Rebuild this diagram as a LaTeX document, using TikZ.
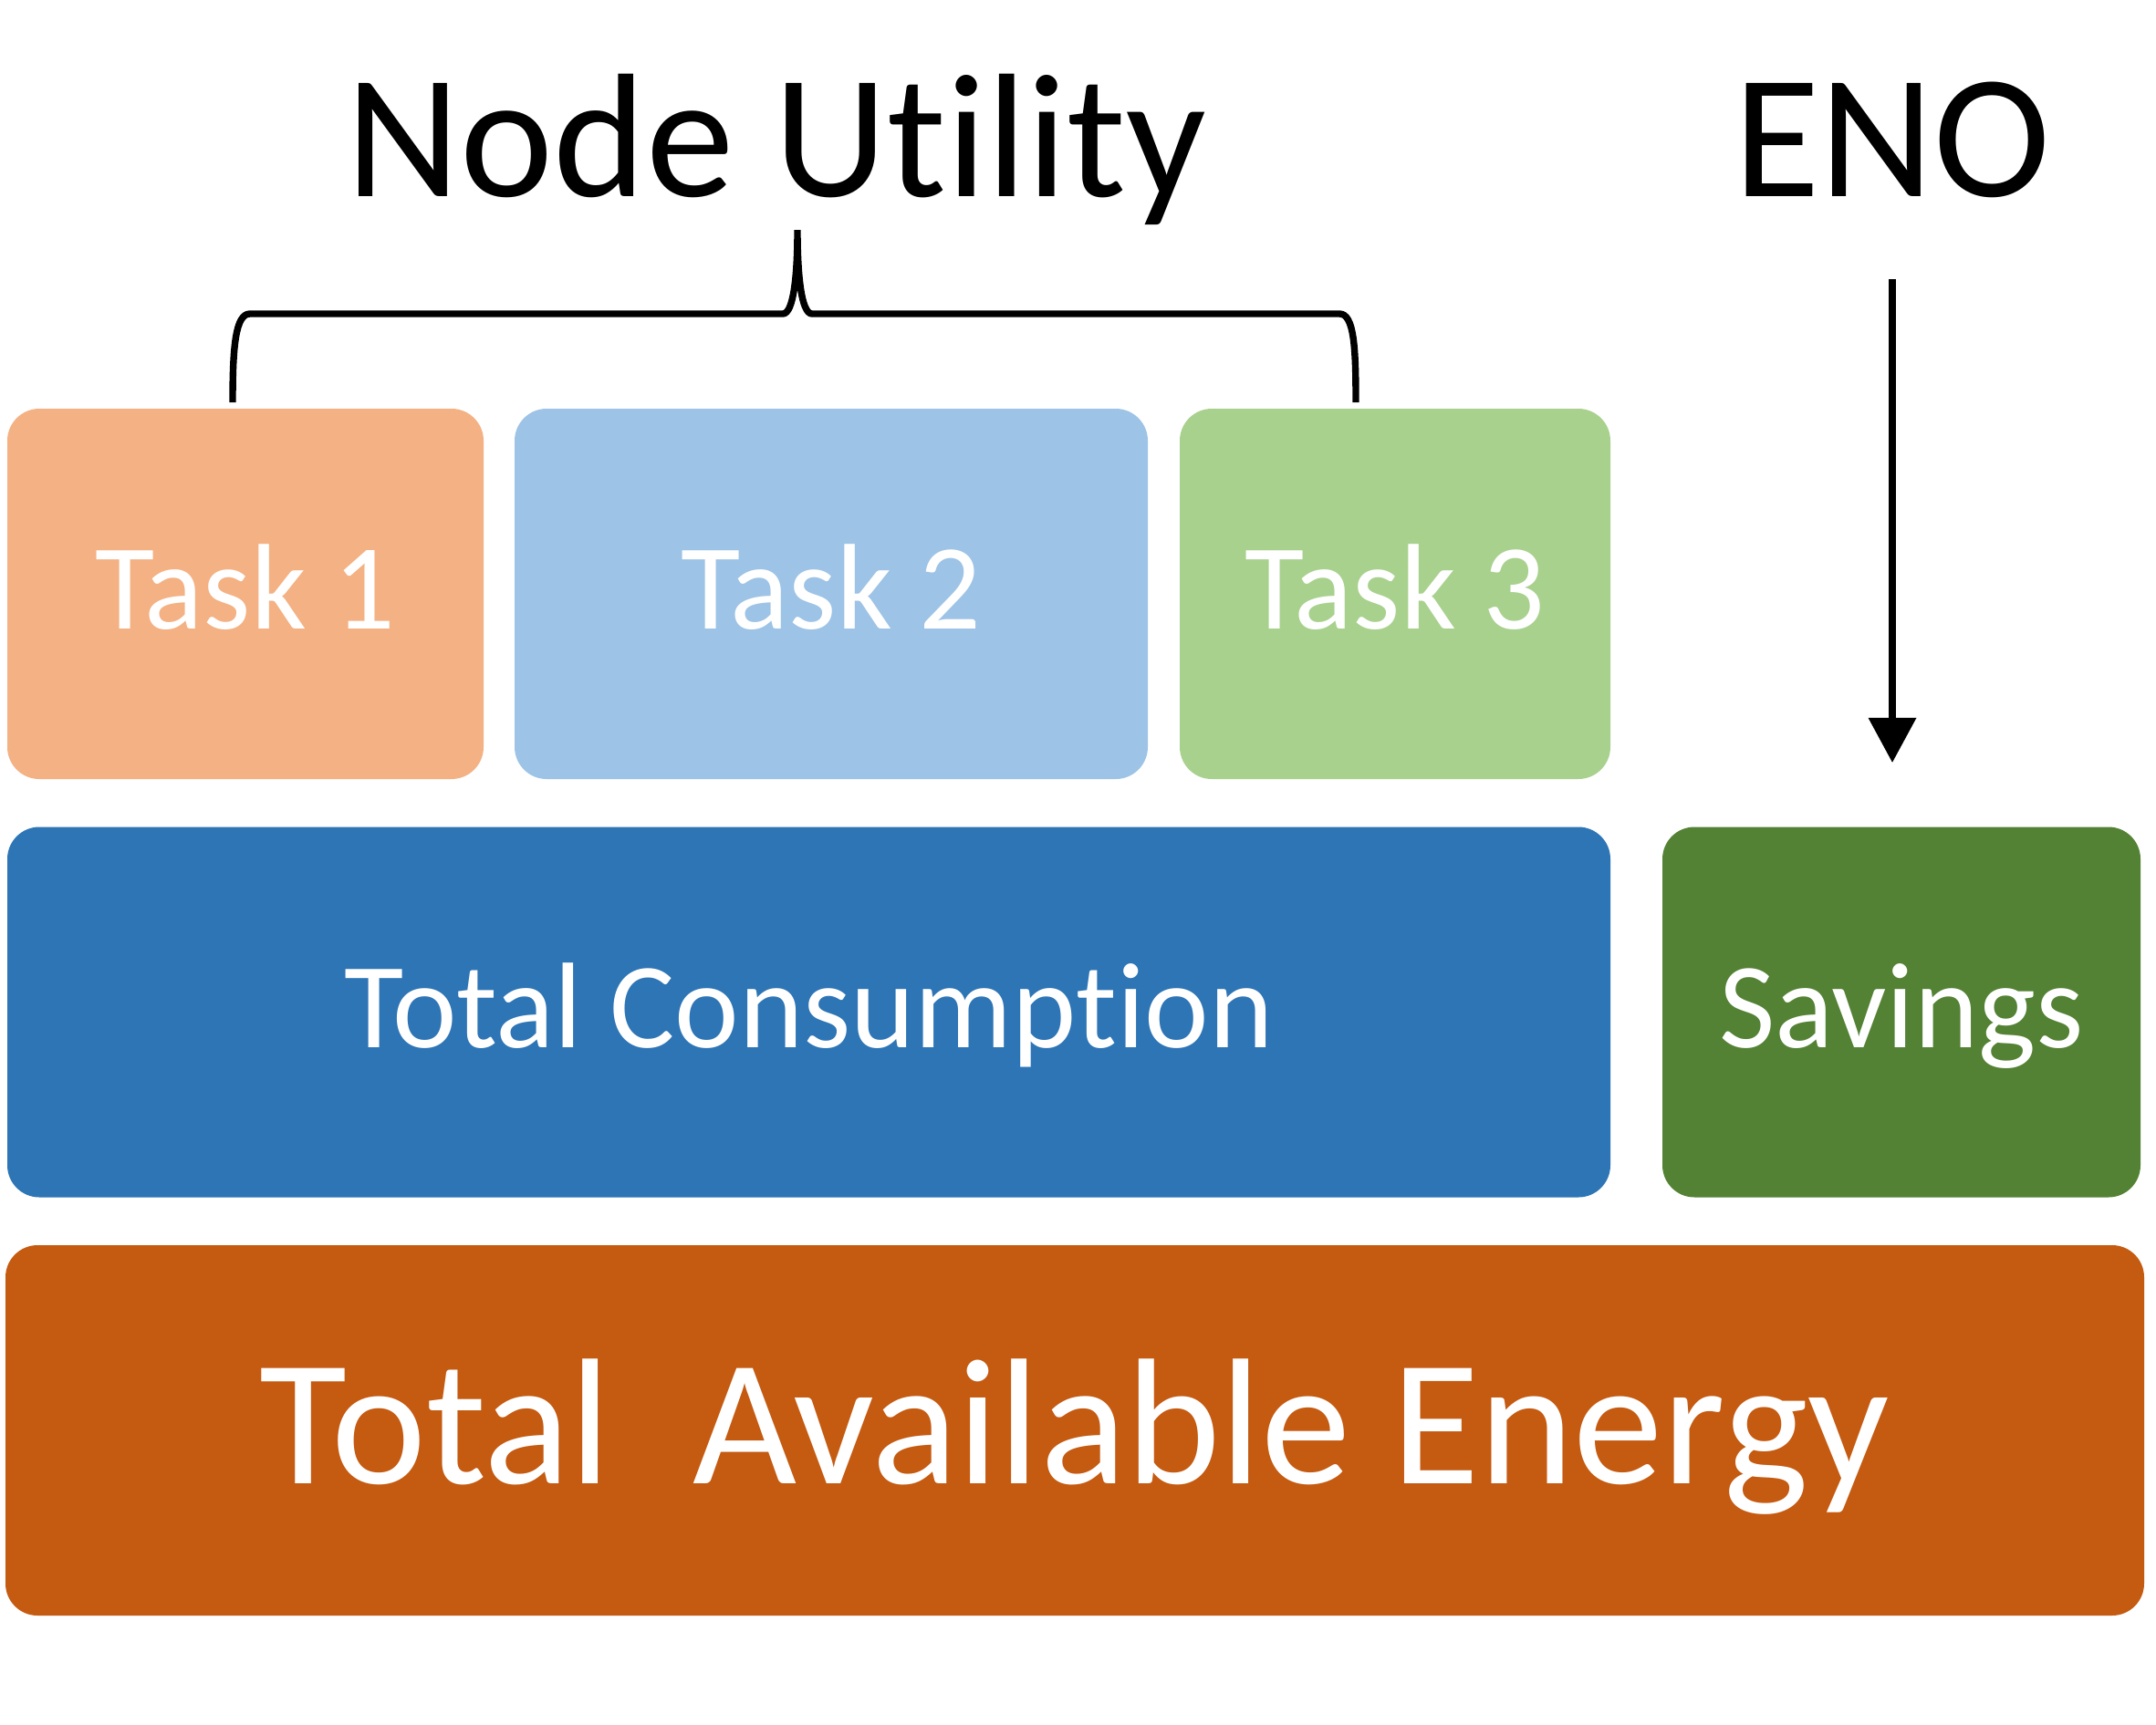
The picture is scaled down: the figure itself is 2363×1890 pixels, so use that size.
\documentclass[tikz,border=0pt]{standalone}
\usepackage{fontspec}
\setmainfont[Ligatures={NoCommon,NoRare}]{Carlito}
\usetikzlibrary{arrows.meta}
\definecolor{taskone}{HTML}{F4B183}
\definecolor{tasktwo}{HTML}{9DC3E6}
\definecolor{taskthree}{HTML}{A9D18E}
\definecolor{consum}{HTML}{2E75B6}
\definecolor{savec}{HTML}{548235}
\definecolor{energyc}{HTML}{C55A11}
\tikzset{
  blockbox/.style={rectangle, rounded corners=10pt, draw=none, inner sep=0pt, text=white,
    minimum height=406*0.01cm},
  smalltxt/.style={font=\fontsize{38}{40}\selectfont, text height=24.5pt, text depth=2.4pt},
  bigtxt/.style={font=\fontsize{56}{60}\selectfont, text height=36pt, text depth=3pt},
  titletxt/.style={font=\fontsize{55}{60}\selectfont, inner sep=0pt, anchor=base},
  blackline/.style={line width=2.1pt, black}
}
\begin{document}
\begin{tikzpicture}[x=0.01cm, y=-0.01cm]
\useasboundingbox (0,0) rectangle (2363,1890);
% task boxes
\node[blockbox, smalltxt, fill=taskone, minimum width=522*0.01cm] (t1) at (269,651) {Task 1};
\node[blockbox, smalltxt, fill=tasktwo, minimum width=694*0.01cm] (t2) at (911,651) {Task 2};
\node[blockbox, smalltxt, fill=taskthree, minimum width=472*0.01cm] (t3) at (1529,651) {Task 3};
% middle row
\node[blockbox, smalltxt, fill=consum, minimum width=1757*0.01cm] (tc) at (886.5,1109.5) {Total Consumption};
\node[blockbox, smalltxt, fill=savec, minimum width=524*0.01cm] (sav) at (2084,1109.5) {Savings};
% bottom
\node[blockbox, bigtxt, fill=energyc, minimum width=2344*0.01cm] (tae) at (1178,1568) {Total\ \ Available Energy};
% titles
\node[titletxt] (nu) at (851,215) {Node Utility};
\node[titletxt] (eno) at (2074,215) {ENO};
% brace
\coordinate (bl) at (255,441);
\coordinate (br) at (1486,441);
\coordinate (btip) at (874,252);
\draw[blackline] (bl) .. controls (255,380) and (258,344) .. (274,344) -- (858,344)
  .. controls (870,344) and (874,300) .. (btip)
  .. controls (874,300) and (878,344) .. (890,344) -- (1468,344)
  .. controls (1484,344) and (1486,380) .. (br);
% arrow
\coordinate (astart) at (2074,306);
\coordinate (aend) at (2074,836);
\draw[blackline, -{Triangle[width=14.5pt, length=14pt]}] (astart) -- (aend);
\end{tikzpicture}
\end{document}
